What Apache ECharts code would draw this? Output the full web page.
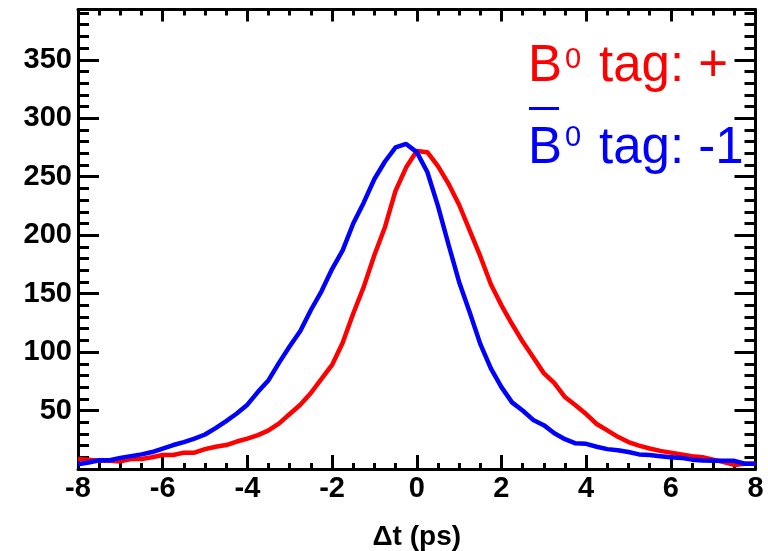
<!DOCTYPE html>
<html>
<head>
    <meta charset="utf-8"/>
    <title>Δt 分布</title>
    <script src="https://cdn.jsdelivr.net/npm/echarts@6/dist/echarts.min.js"></script>
    <style>
        html, body { margin: 0; padding: 0; background: #fff; }
        #chart { width: 768px; height: 551px; }
    </style>
</head>
<body>
<div id="chart"></div>
<script>
    // Δt (ps) sampling points
    var dt = [-8, -7.75, -7.5, -7.25, -7, -6.75, -6.5, -6.25, -6, -5.75, -5.5, -5.25, -5, -4.75, -4.5, -4.25,
        -4, -3.75, -3.5, -3.25, -3, -2.75, -2.5, -2.25, -2, -1.75, -1.5, -1.25, -1, -0.75, -0.5, -0.25,
        0, 0.25, 0.5, 0.75, 1, 1.25, 1.5, 1.75, 2, 2.25, 2.5, 2.75, 3, 3.25, 3.5, 3.75,
        4, 4.25, 4.5, 4.75, 5, 5.25, 5.5, 5.75, 6, 6.25, 6.5, 6.75, 7, 7.25, 7.5, 7.75, 8];

    // B0 tag: +  (red)
    var tagPlus = [8.5, 8, 7, 7, 6.5, 8.5, 8.5, 10, 12, 12, 14, 14, 17, 19, 20.5, 23.5,
        26, 29, 33, 39, 47, 55, 65, 77, 89, 108, 133, 156, 183, 207, 238, 258,
        272, 271, 259, 244, 226, 204, 182, 158, 140, 124, 109, 95.5, 82, 73.5, 61.5, 54.5,
        47, 38.5, 33, 27.5, 23, 20, 17.5, 15.5, 14, 12.5, 11, 10, 8, 6, 3.5, 4.4, 4.4];

    // anti-B0 tag: -1  (blue)
    var tagMinus = [4, 5.5, 7.5, 7.5, 9.5, 11, 12.5, 14.5, 17.5, 20.5, 23, 26, 29.5, 35, 41, 47.5,
        55, 66, 76, 91, 105, 118, 136, 152, 171, 187, 210, 228, 248, 263, 275, 278,
        271, 254, 225, 192, 160, 134, 107, 86, 70, 57, 50, 42, 37.5, 30.5, 25.5, 22,
        21.5, 19, 17, 16, 14.5, 12.5, 12, 11, 10, 9.5, 8, 7.2, 7, 7, 7, 4.5, 4.4];

    var xTicks = {min: -8, max: 8, interval: 2};
    var yTicks = {min: 0, max: 393, interval: 50};

    var FONT = 'Liberation Sans, Arial, Helvetica, sans-serif';

    function pairs(xs, ys) {
        return xs.map(function (x, i) { return [x, ys[i]]; });
    }

    function xAxisOf(pos, showLabel, tickLen, minorLen) {
        return {
            type: 'value', position: pos,
            min: xTicks.min, max: xTicks.max, interval: xTicks.interval,
            axisLine: {onZero: false, lineStyle: {color: '#000', width: 3}},
            axisTick: {inside: true, length: tickLen, lineStyle: {color: '#000', width: 3}},
            minorTick: {show: true, splitNumber: 4, length: minorLen, lineStyle: {color: '#000', width: 3}},
            splitLine: {show: false},
            axisLabel: {
                show: showLabel, margin: 5, color: '#000',
                fontFamily: FONT, fontWeight: 'bold', fontSize: 29,
                showMinLabel: true, showMaxLabel: true
            }
        };
    }

    function yAxisOf(pos, showLabel) {
        return {
            type: 'value', position: pos,
            min: yTicks.min, max: yTicks.max, interval: yTicks.interval,
            axisLine: {onZero: false, lineStyle: {color: '#000', width: 3}},
            axisTick: {inside: true, length: 21, lineStyle: {color: '#000', width: 3}},
            minorTick: {show: true, splitNumber: 5, length: 11, lineStyle: {color: '#000', width: 3}},
            splitLine: {show: false},
            axisLabel: {
                show: showLabel, margin: 6, color: '#000', padding: [0, 0, 4, 0],
                fontFamily: FONT, fontWeight: 'bold', fontSize: 29,
                showMinLabel: false, showMaxLabel: false
            }
        };
    }

    // text pieces of the two labels in the upper right
    function txt(s, x, y, size, color) {
        return {
            type: 'text', x: x, y: y,
            style: {text: s, fill: color, fontSize: size, fontFamily: FONT, verticalAlign: 'middle'}
        };
    }

    var bottomAxis = xAxisOf('bottom', true, 14, 6);
    bottomAxis.name = 'Δt (ps)';
    bottomAxis.nameLocation = 'middle';
    bottomAxis.nameGap = 54;
    bottomAxis.nameTextStyle = {color: '#000', fontFamily: FONT, fontWeight: 'bold', fontSize: 28};

    var myChart = echarts.init(document.getElementById('chart'));
    var option = {
        animation: false,
        backgroundColor: '#fff',
        grid: {left: 78, right: 12.5, top: 9.5, bottom: 82, containLabel: false, outerBoundsMode: 'none'},
        xAxis: [bottomAxis, xAxisOf('top', false, 12, 6)],
        yAxis: [yAxisOf('left', true), yAxisOf('right', false)],
        series: [{
            name: 'B0 tag: +',
            type: 'line',
            showSymbol: false,
            symbol: 'none',
            lineStyle: {color: '#ff0000', width: 4.5},
            itemStyle: {color: '#ff0000'},
            data: pairs(dt, tagPlus)
        }, {
            name: 'anti-B0 tag: -1',
            type: 'line',
            showSymbol: false,
            symbol: 'none',
            lineStyle: {color: '#0000ff', width: 4.5},
            itemStyle: {color: '#0000ff'},
            data: pairs(dt, tagMinus)
        }],
        graphic: [
            txt('B', 528, 67, 51, '#ff0000'),
            txt('0', 565, 60, 29, '#ff0000'),
            txt('tag: +', 599, 67, 51, '#ff0000'),
            {type: 'line', shape: {x1: 529, y1: 108.5, x2: 559, y2: 108.5}, style: {stroke: '#0000ff', lineWidth: 3}},
            txt('B', 528, 149, 51, '#0000ff'),
            txt('0', 565, 138, 29, '#0000ff'),
            txt('tag: -1', 599, 149, 51, '#0000ff')
        ]
    };
    myChart.setOption(option);
</script>
</body>
</html>
